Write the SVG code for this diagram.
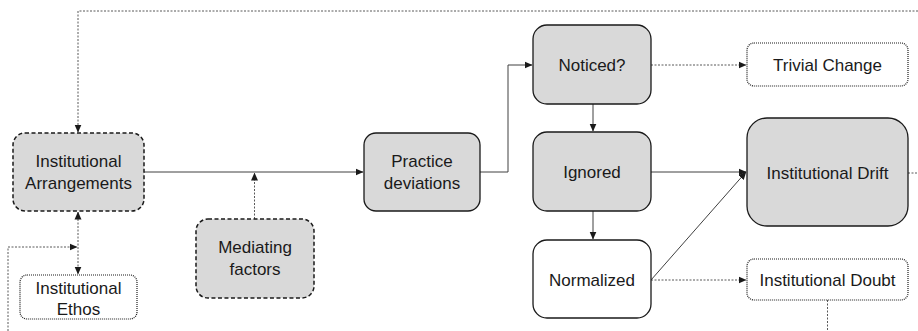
<svg xmlns="http://www.w3.org/2000/svg" width="918" height="331" viewBox="0 0 918 331">
<style>
.solid{fill:#d9d9d9;stroke:#1a1a1a;stroke-width:1.3}
.white{fill:#ffffff;stroke:#1a1a1a;stroke-width:1.3}
.dash{fill:#d9d9d9;stroke:#1a1a1a;stroke-width:1.5;stroke-dasharray:4 2.5}
.dot{fill:#ffffff;stroke:#1a1a1a;stroke-width:1.2;stroke-dasharray:1 1}
text{font-family:"Liberation Sans",Arial,sans-serif;font-size:17px;fill:#1a1a1a;text-anchor:middle}
.c{fill:none;stroke:#404040;stroke-width:1}
.cd{fill:none;stroke:#595959;stroke-width:1;stroke-dasharray:2 1.5}
</style>
<defs>
<marker id="a" viewBox="0 0 8 8" refX="7.5" refY="4" markerWidth="8" markerHeight="8" markerUnits="userSpaceOnUse" orient="auto-start-reverse">
<path d="M0,0.5 L8,4 L0,7.5 z" fill="#1a1a1a"/>
</marker>
</defs>
<g id="connectors">
<path class="cd" d="M918,11 H78 V132" marker-end="url(#a)"/>
<path class="cd" d="M78,212 V274" marker-start="url(#a)" marker-end="url(#a)"/>
<path class="cd" d="M8,331 V247 H77" marker-end="url(#a)"/>
<path class="c" d="M144,172 H363" marker-end="url(#a)"/>
<path class="cd" d="M254.5,219 V173" marker-end="url(#a)"/>
<path class="c" d="M480,172 H508 V65 H532" marker-end="url(#a)"/>
<path class="cd" d="M651,65 H746" marker-end="url(#a)"/>
<path class="c" d="M593,104 V131" marker-end="url(#a)"/>
<path class="c" d="M593,211 V239" marker-end="url(#a)"/>
<path class="c" d="M651,172 H746" marker-end="url(#a)"/>
<path class="c" d="M651,280 L746,172" marker-end="url(#a)"/>
<path class="cd" d="M651,280 H746" marker-end="url(#a)"/>
<path class="cd" d="M908,173 H918"/>
<path class="cd" d="M827.5,300 V331"/>
</g>
<g id="inst-arrangements">
<rect class="dash" x="13" y="133" width="131" height="78" rx="12"/>
<text x="78.5" y="167">Institutional</text>
<text x="78.5" y="189">Arrangements</text>
</g>
<g id="inst-ethos">
<rect class="dot" x="20" y="275" width="117" height="44" rx="7"/>
<text x="78.5" y="294">Institutional</text>
<text x="78.5" y="315">Ethos</text>
</g>
<g id="mediating">
<rect class="dash" x="196" y="219" width="118" height="79" rx="12"/>
<text x="255" y="253">Mediating</text>
<text x="255" y="275">factors</text>
</g>
<g id="practice">
<rect class="solid" x="364" y="133" width="116" height="78" rx="12"/>
<text x="422" y="167">Practice</text>
<text x="422" y="189">deviations</text>
</g>
<g id="noticed">
<rect class="solid" x="533" y="25" width="118" height="79" rx="14"/>
<text x="592" y="71">Noticed?</text>
</g>
<g id="ignored">
<rect class="solid" x="533" y="132" width="118" height="79" rx="14"/>
<text x="592" y="178">Ignored</text>
</g>
<g id="normalized">
<rect class="white" x="533" y="240" width="118" height="78" rx="14"/>
<text x="592" y="286">Normalized</text>
</g>
<g id="trivial">
<rect class="dot" x="747" y="43" width="161" height="43" rx="7"/>
<text x="827.5" y="71">Trivial Change</text>
</g>
<g id="drift">
<rect class="solid" x="747" y="118" width="161" height="108" rx="20"/>
<text x="827.5" y="179">Institutional Drift</text>
</g>
<g id="doubt">
<rect class="dot" x="747" y="259" width="161" height="41" rx="7"/>
<text x="827.5" y="286">Institutional Doubt</text>
</g>
</svg>
